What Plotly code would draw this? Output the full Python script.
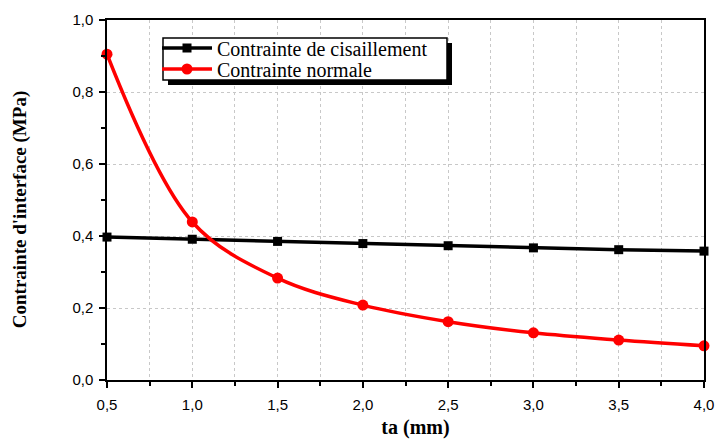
import plotly.graph_objects as go

ta = [0.5, 1.0, 1.5, 2.0, 2.5, 3.0, 3.5, 4.0]
cisaillement = [0.397, 0.391, 0.385, 0.379, 0.373, 0.367, 0.362, 0.358]
normale = [0.905, 0.439, 0.283, 0.208, 0.162, 0.131, 0.111, 0.095]
names = ["Contrainte de cisaillement", "Contrainte normale"]

W, H = 718, 439
L, R, T, B = 107, 14, 20, 59
pw, ph = W - L - R, H - T - B

def px(xp):
    return (xp - L) / pw

def py(yp):
    return (H - B - yp) / ph

SERIF = "Liberation Serif"
SANS = "Liberation Sans"

fig = go.Figure()
fig.add_trace(go.Scatter(x=ta, y=cisaillement, mode="lines+markers",
                         name=names[0], legend="legend",
                         line=dict(color="black", width=3.5),
                         marker=dict(symbol="square", size=9, color="black"),
                         cliponaxis=False))
fig.add_trace(go.Scatter(x=ta, y=normale, mode="lines+markers",
                         name=names[1], legend="legend2",
                         line=dict(color="#ff0000", width=3.5, shape="spline", smoothing=1.0),
                         marker=dict(symbol="circle", size=11, color="#ff0000"),
                         cliponaxis=False))

axis_common = dict(showline=True, linecolor="black", linewidth=1.5, mirror=True,
                   ticks="outside", ticklen=6, tickwidth=1.5, tickcolor="black",
                   tickfont=dict(family=SANS, size=15, color="black"),
                   zeroline=False, tickformat=".1f", automargin=False)

fig.update_xaxes(range=[0.5, 4.0], dtick=0.5, tick0=0.5,
                 showgrid=True, gridcolor="#c8c8c8", griddash="dot", gridwidth=1,
                 minor=dict(dtick=0.25, ticks="outside", ticklen=4, tickcolor="black",
                            showgrid=True, gridcolor="#c8c8c8", griddash="dot"),
                 ticklabelstandoff=4,
                 title=dict(text="&nbsp;&nbsp;&nbsp;&nbsp;<b>ta (mm)</b>", standoff=15,
                            font=dict(family=SERIF, size=20, color="black")),
                 **axis_common)
fig.update_yaxes(range=[0, 1.0], dtick=0.2,
                 showgrid=True, gridcolor="#c8c8c8", griddash="dot", gridwidth=1,
                 minor=dict(dtick=0.1, ticks="outside", ticklen=4, tickcolor="black", showgrid=False),
                 ticklabelstandoff=3,
                 title=dict(text="<b>Contrainte d'interface (MPa)</b>&nbsp;&nbsp;&nbsp;&nbsp;", standoff=41,
                            font=dict(family=SERIF, size=19, color="black")),
                 **axis_common)

# legend frame with shadow
fig.add_shape(type="rect", xref="paper", yref="paper",
              x0=px(168), x1=px(452), y0=py(85), y1=py(43),
              fillcolor="black", line=dict(width=0), layer="above")
fig.add_shape(type="rect", xref="paper", yref="paper",
              x0=px(163), x1=px(447), y0=py(80), y1=py(38),
              fillcolor="white", line=dict(color="black", width=1.5), layer="above")

leg_common = dict(xanchor="left", yanchor="middle", bgcolor="rgba(0,0,0,0)",
                  borderwidth=0, itemwidth=50,
                  font=dict(family=SERIF, size=20, color="black"))

fig.update_layout(
    width=W, height=H,
    margin=dict(l=L, r=R, t=T, b=B),
    paper_bgcolor="white", plot_bgcolor="white",
    separators=",.",
    showlegend=True,
    legend=dict(x=px(157), y=py(48), **leg_common),
    legend2=dict(x=px(157), y=py(69), **leg_common),
)

fig.write_html("out.html", config={"displayModeBar": False},
               post_script="document.body.style.margin='0';document.body.style.overflow='hidden';")
